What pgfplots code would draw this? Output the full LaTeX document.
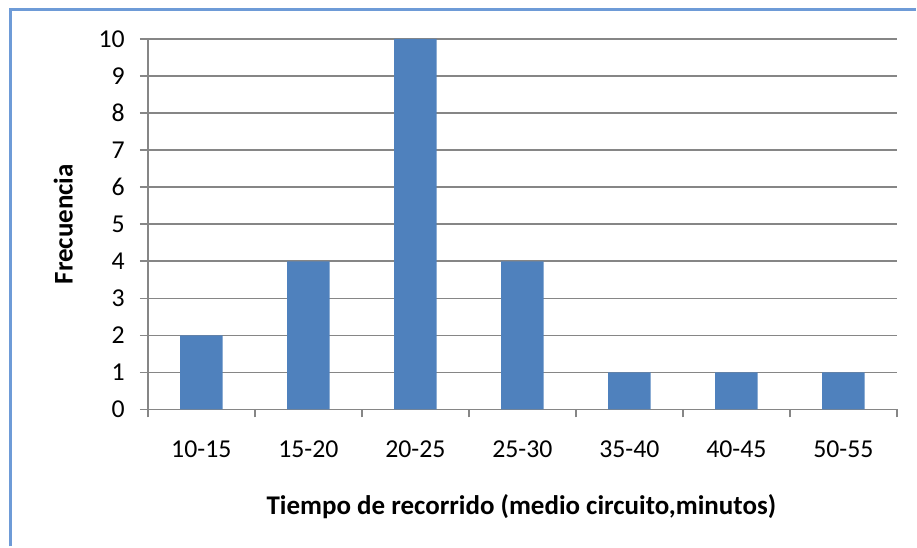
\documentclass[border=0pt]{standalone}
\usepackage{pgfplots}
\pgfplotsset{compat=1.18}
\usepackage{fontspec}
\setmainfont{Carlito}
\definecolor{barblue}{RGB}{79,129,189}
\definecolor{framecol}{RGB}{110,155,215}
\definecolor{gridgray}{RGB}{134,134,134}

\pgfplotstableread{
idx freq
0 2
1 4
2 10
3 4
4 1
5 1
6 1
}\freqtable

\begin{document}
\begin{tikzpicture}[x=0.5pt,y=0.5pt]
  % canvas and chart-area border (left and top edges)
  \path (0,0) rectangle (917,547);
  \draw[framecol, line width=1.2pt] (10.5,0) -- (10.5,537.5) -- (917,537.5);

  \begin{axis}[
      at={(148pt*0.5,137pt*0.5)}, anchor=south west,
      scale only axis,
      width=375pt, height=185.5pt,
      font=\fontsize{12.9}{15}\selectfont,
      /pgf/number format/assume math mode=true,
      xmin=-0.5, xmax=6.5,
      ymin=0, ymax=10,
      axis lines*=left,
      axis line style={gridgray, line width=0.8pt},
      every outer x axis line/.append style={-},
      every outer y axis line/.append style={-},
      tick align=outside,
      xtick={0,...,6},
      xticklabels={10-15,15-20,20-25,25-30,35-40,40-45,50-55},
      major x tick style={draw=none},
      minor xtick={-0.5,0.5,...,6.5},
      minor tick length=4pt,
      minor x tick style={gridgray, line width=0.8pt},
      ytick={0,...,10},
      major tick length=4pt,
      y tick style={gridgray, line width=0.8pt},
      ymajorgrids,
      grid style={gridgray, line width=0.8pt},
      xticklabel style={yshift=-8pt},
      yticklabel style={xshift=-4pt},
      xlabel={\fontsize{13.5}{16}\selectfont\bfseries Tiempo de recorrido (medio circuito,minutos)},
      ylabel={\fontsize{13.5}{16}\selectfont\bfseries Frecuencia},
      xlabel style={at={(axis description cs:0.4987,-0.2615)}, anchor=center},
      ylabel style={at={(axis description cs:-0.113,0.5)}, anchor=center, rotate=0},
      clip=false,
    ]
    \addplot[ybar, bar width=21.25pt, fill=barblue, draw=none]
      table[x=idx, y=freq] {\freqtable};
  \end{axis}
\end{tikzpicture}
\end{document}
